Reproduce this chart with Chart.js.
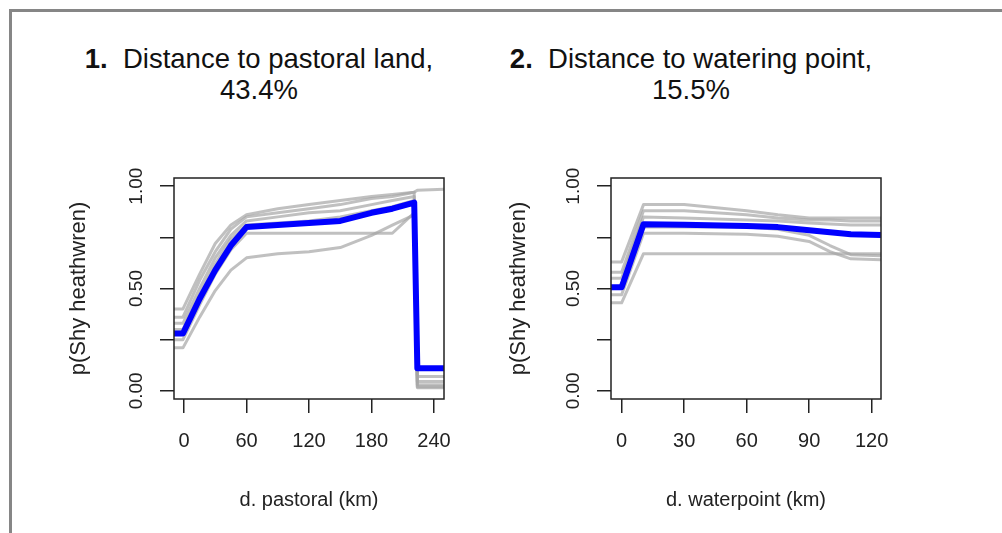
<!DOCTYPE html>
<html>
<head>
<meta charset="utf-8">
<script src="https://cdn.jsdelivr.net/npm/chart.js@4"></script>
<style>
  body { margin: 0; width: 1002px; height: 533px; position: relative; background: #fff; overflow: hidden; }
  .frame { position: absolute; left: 9px; top: 9px; right: -10px; bottom: -10px; border-left: 3px solid #868686; border-top: 3px solid #868686; }
  .title { position: absolute; top: 43px; font: 27.5px "Liberation Sans", Arial, sans-serif; line-height: 31px; color: #111; text-align: center; white-space: nowrap; }
  .title b { font-weight: bold; }
  canvas { position: absolute; top: 0; }
</style>
</head>
<body>
<div class="frame"></div>
<div class="title" style="left:59px; width:400px;"><b>1.</b>&nbsp; Distance to pastoral land,<br>43.4%</div>
<div class="title" style="left:491px; width:400px;"><b>2.</b>&nbsp; Distance to watering point,<br>15.5%</div>
<canvas id="pastoralChart" width="501" height="533" style="left:0"></canvas>
<canvas id="waterChart" width="501" height="533" style="left:501px"></canvas>
<script>
// distance to pastoral land (km)
const pastoralX = [-9.6, -1, 15, 30, 45, 60, 90, 120, 150, 180, 200, 221, 224, 249.6];
const pastoralMean = [0.28, 0.28, 0.45, 0.59, 0.71, 0.80, 0.81, 0.82, 0.83, 0.87, 0.89, 0.92, 0.11, 0.11];
const pastoralRuns = [
    [0.40, 0.40, 0.57, 0.72, 0.81, 0.86, 0.89, 0.91, 0.93, 0.95, 0.96, 0.97, 0.98, 0.985],
    [0.36, 0.36, 0.54, 0.68, 0.79, 0.85, 0.87, 0.89, 0.91, 0.94, 0.95, 0.97, 0.07, 0.07],
    [0.33, 0.33, 0.50, 0.65, 0.76, 0.83, 0.85, 0.87, 0.88, 0.91, 0.93, 0.95, 0.045, 0.045],
    [0.30, 0.30, 0.47, 0.62, 0.74, 0.81, 0.82, 0.83, 0.85, 0.88, 0.90, 0.93, 0.03, 0.03],
    [0.25, 0.25, 0.42, 0.57, 0.69, 0.77, 0.77, 0.77, 0.77, 0.77, 0.77, 0.87, 0.02, 0.02],
    [0.21, 0.21, 0.36, 0.49, 0.59, 0.65, 0.67, 0.68, 0.70, 0.76, 0.81, 0.86, 0.015, 0.015]
];
const pastoralTicks = [0, 60, 120, 180, 240];

// distance to watering point (km)
const waterX = [-5.1, 0, 10.5, 30, 60, 75, 90, 100, 110, 124.5];
const waterMean = [0.506, 0.506, 0.814, 0.812, 0.806, 0.80, 0.785, 0.775, 0.765, 0.762];
const waterRuns = [
    [0.63, 0.63, 0.91, 0.91, 0.88, 0.86, 0.845, 0.845, 0.845, 0.845],
    [0.58, 0.58, 0.88, 0.88, 0.86, 0.845, 0.835, 0.835, 0.83, 0.83],
    [0.55, 0.55, 0.85, 0.845, 0.835, 0.83, 0.82, 0.815, 0.81, 0.81],
    [0.50, 0.50, 0.80, 0.80, 0.80, 0.79, 0.76, 0.71, 0.665, 0.66],
    [0.47, 0.47, 0.77, 0.77, 0.765, 0.755, 0.73, 0.68, 0.645, 0.64],
    [0.43, 0.43, 0.67, 0.67, 0.67, 0.67, 0.67, 0.67, 0.67, 0.67]
];
const waterTicks = [0, 30, 60, 90, 120];

const probTicks = [0, 0.25, 0.5, 0.75, 1];
const probLabels = ['0.00', '', '0.50', '', '1.00'];

const narrowFont = '"Liberation Sans Narrow", "Arial Narrow", "Liberation Sans", Arial, sans-serif';
const plainFont = '"Liberation Sans", Arial, sans-serif';

// box around the plot area, like R's box()
const boxPlugin = {
    id: 'box',
    afterDatasetsDraw(chart) {
        const a = chart.chartArea;
        const ctx = chart.ctx;
        ctx.save();
        ctx.strokeStyle = '#222';
        ctx.lineWidth = 1.5;
        ctx.strokeRect(a.left, a.top, a.right - a.left, a.bottom - a.top);
        ctx.restore();
    }
};

function toPoints(xs, ys) {
    return xs.map((x, i) => ({ x: x, y: ys[i] }));
}

function makePanel(canvasId, xs, mean, runs, xTicks, xMin, xMax, xTitle, pad, yWidth) {
    const datasets = [{
        data: toPoints(xs, mean),
        borderColor: '#0000ff',
        borderWidth: 6,
        borderJoinStyle: 'round'
    }];
    runs.forEach(r => datasets.push({
        data: toPoints(xs, r),
        borderColor: 'rgba(165,165,165,0.7)',
        borderWidth: 3,
        borderJoinStyle: 'round'
    }));

    return new Chart(document.getElementById(canvasId), {
        type: 'line',
        data: { datasets: datasets },
        options: {
            responsive: false,
            animation: false,
            devicePixelRatio: 1,
            layout: { padding: pad },
            elements: { point: { radius: 0 }, line: { tension: 0 } },
            plugins: { legend: { display: false }, tooltip: { enabled: false } },
            scales: {
                x: {
                    type: 'linear',
                    min: xMin,
                    max: xMax,
                    afterBuildTicks: s => { s.ticks = xTicks.map(v => ({ value: v })); },
                    afterFit: s => { s.height = 533 - 399 - pad.bottom; },
                    grid: { drawOnChartArea: false, drawTicks: true, tickLength: 14, color: '#222', lineWidth: 1.5 },
                    border: { display: false },
                    ticks: { font: { family: narrowFont, size: 20 }, color: '#222', padding: 16, maxRotation: 0 },
                    title: { display: true, text: xTitle, font: { family: narrowFont, size: 20 }, color: '#222', padding: { top: 4, bottom: 4 } }
                },
                y: {
                    min: -0.04,
                    max: 1.04,
                    afterBuildTicks: s => { s.ticks = probTicks.map(v => ({ value: v })); },
                    afterFit: s => { s.width = yWidth; },
                    grid: { drawOnChartArea: false, drawTicks: true, tickLength: 14, color: '#222', lineWidth: 1.5 },
                    border: { display: false },
                    ticks: {
                        font: { family: plainFont, size: 19 },
                        color: '#222',
                        padding: 5,
                        minRotation: 90,
                        maxRotation: 90,
                        crossAlign: 'center',
                        callback: (v, i) => probLabels[i]
                    },
                    title: { display: true, text: 'p(Shy heathwren)', font: { family: plainFont, size: 22 }, color: '#222', padding: { top: 5, bottom: 4 } }
                }
            }
        },
        plugins: [boxPlugin]
    });
}

makePanel('pastoralChart', pastoralX, pastoralMean, pastoralRuns, pastoralTicks, -9.6, 249.6,
    'd. pastoral (km)', { left: 61, right: 57, top: 178, bottom: 17 }, 113);
makePanel('waterChart', waterX, waterMean, waterRuns, waterTicks, -5.1, 124.5,
    'd. waterpoint (km)', { left: 0, right: 121, top: 178, bottom: 17 }, 110);
</script>
</body>
</html>
